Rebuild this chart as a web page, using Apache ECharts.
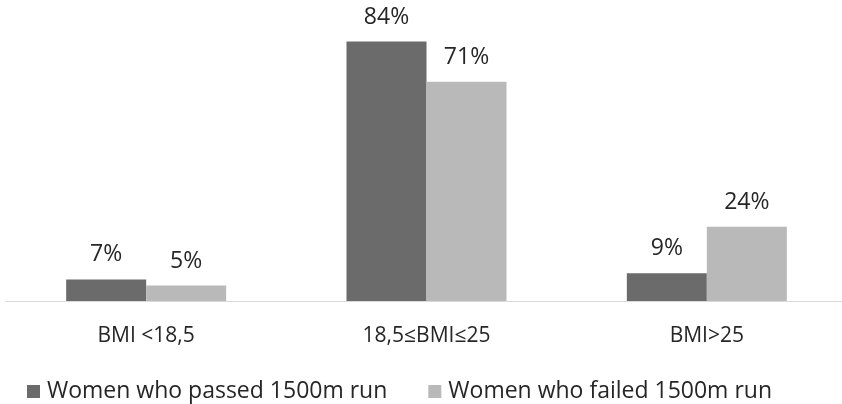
<!DOCTYPE html>
<html>
<head>
<meta charset="utf-8">
<script src="https://cdn.jsdelivr.net/npm/echarts@6/dist/echarts.min.js"></script>
<style>
  html, body { margin: 0; padding: 0; background: #ffffff; }
  #chart { width: 842px; height: 404px; }
</style>
</head>
<body>
<div id="chart"></div>
<script>
// BMI groups and the share of women in each, by 1500m run result (%)
const categories = ['BMI <18,5', '18,5\u2264BMI\u226425', 'BMI>25'];
const passedValues = [7, 84, 9];
const failedValues = [5, 71, 24];
const seriesNames = ['Women who passed 1500m run', 'Women who failed 1500m run'];

const FONT = 'Open Sans';
const chart = echarts.init(document.getElementById('chart'), null, { renderer: 'canvas' });

const labelStyle = {
  show: true,
  position: 'top',
  distance: 13,
  formatter: p => p.value + '%',
  color: '#262626',
  fontFamily: FONT,
  fontSize: 23
};

chart.setOption({
  animation: false,
  backgroundColor: '#ffffff',
  grid: {
    left: 6, top: 23, width: 841, bottom: 103,
    containLabel: false,
    outerBoundsMode: 'none'
  },
  legend: {
    top: 380,
    left: 27,
    padding: 0,
    itemWidth: 13,
    itemHeight: 13,
    itemGap: 41,
    icon: 'rect',
    textStyle: { fontFamily: FONT, fontSize: 23, color: '#262626', padding: [0, 0, 0, 2] },
    data: seriesNames
  },
  xAxis: {
    type: 'category',
    data: categories,
    axisLine: { lineStyle: { color: '#d9d9d9', width: 1 } },
    axisTick: { show: false },
    axisLabel: { fontFamily: FONT, fontSize: 21, color: '#262626', margin: 25 }
  },
  yAxis: {
    type: 'value',
    min: 0,
    max: 90,
    show: false,
    splitLine: { show: false }
  },
  series: [
    {
      name: seriesNames[0],
      type: 'bar',
      data: passedValues,
      barWidth: 80,
      barGap: '0%',
      itemStyle: { color: '#6b6b6b' },
      label: labelStyle
    },
    {
      name: seriesNames[1],
      type: 'bar',
      data: failedValues,
      barWidth: 80,
      itemStyle: { color: '#b9b9b9' },
      label: labelStyle
    }
  ]
});
</script>
</body>
</html>
